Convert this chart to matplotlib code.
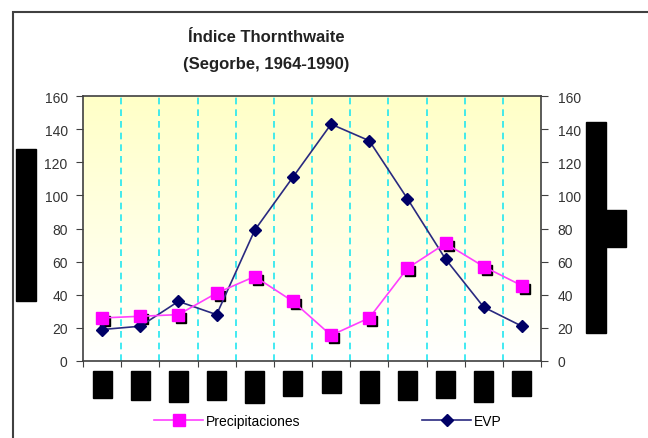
import matplotlib
matplotlib.use("Agg")
import matplotlib.pyplot as plt
import matplotlib.transforms as mtransforms
from matplotlib.patches import Rectangle
import numpy as np

plt.rcParams["font.family"] = ["Liberation Sans", "DejaVu Sans"]

# monthly values (mm)
months = list(range(12))
precip = [26, 27, 28, 41, 51, 36, 15.5, 26, 56, 71, 57, 45.5]
evp = [19, 21, 36, 28, 79, 111, 143, 133, 98, 61.5, 32.5, 21]
# heights (px) of the blacked-out month labels
label_boxes = [27, 29, 31, 29, 32, 25, 22, 32, 29, 27, 31, 25]
yticks = [0, 20, 40, 60, 80, 100, 120, 140, 160]

W, H = 648, 439
fig = plt.figure(figsize=(W / 100, H / 100), dpi=100)

# outer chart frame
fig.patches.append(Rectangle((13 / W, -0.05), 1.2, (H - 13) / H + 0.05,
                             transform=fig.transFigure, fill=False,
                             edgecolor="#404040", linewidth=1.5))

ax = fig.add_axes([83 / W, 77 / H, 458 / W, 265 / H])

# yellow (top) to white (bottom) background
grad = np.linspace(0, 1, 256).reshape(-1, 1)
cols = np.ones((256, 1, 3))
cols[..., 2] = 1.0 - 0.22 * grad
ax.imshow(cols, extent=(-0.5, 11.5, 0, 160), aspect="auto", zorder=0,
          origin="lower")
ax.set_xlim(-0.5, 11.5)
ax.set_ylim(0, 160)

for b in np.arange(0.5, 11.5, 1):
    ax.axvline(b, color="#22E6F0", linestyle=(0, (4, 3)), linewidth=1.2, zorder=1)

# shadows behind precipitation squares
shadow = mtransforms.offset_copy(ax.transData, fig=fig, x=3, y=-3, units="dots")
ax.plot(months, precip, "s", color="black", markersize=7.5, transform=shadow, zorder=3)

ax.plot(months, evp, color="#2A2A80", linewidth=1.2, marker="D", markersize=6,
        markerfacecolor="#000066", markeredgecolor="#000066", zorder=4, label="EVP")
ax.plot(months, precip, color="#FF40FF", linewidth=1.2, marker="s", markersize=8,
        markerfacecolor="#FF00FF", markeredgecolor="#FF00FF", zorder=5,
        label="Precipitaciones")

for s in ax.spines.values():
    s.set_color("#404040")
    s.set_linewidth(1.2)

ax.set_yticks(yticks)
ax.set_xticks(np.arange(-0.5, 12, 1))
ax.set_xticklabels([])
ax.tick_params(axis="x", direction="out", length=4, color="#404040")
ax.tick_params(axis="y", direction="out", length=5, color="#404040",
               labelsize=10, pad=6, labelcolor="#333333")
ax2 = ax.twinx()
ax2.set_ylim(0, 160)
ax2.set_yticks(yticks)
ax2.tick_params(axis="y", direction="out", length=5, color="#404040",
                labelsize=10, pad=7, labelcolor="#333333")
for s in ax2.spines.values():
    s.set_visible(False)

# blacked-out month labels under the axis
btrans = mtransforms.blended_transform_factory(ax.transData, fig.transFigure)
for m, h in zip(months, label_boxes):
    fig.patches.append(Rectangle((m - 0.25, (H - 372 - h) / H), 0.5, h / H,
                                 transform=btrans, color="black"))

# blacked-out axis titles
fig.patches.append(Rectangle((16 / W, (H - 302) / H), 20 / W, 152 / H,
                             transform=fig.transFigure, color="black"))
fig.patches.append(Rectangle((586 / W, (H - 334) / H), 20 / W, 211 / H,
                             transform=fig.transFigure, color="black"))
fig.patches.append(Rectangle((606 / W, (H - 248) / H), 20 / W, 37 / H,
                             transform=fig.transFigure, color="black"))

fig.text(266 / W, (H - 38) / H, "Índice Thornthwaite", ha="center", va="center",
         fontsize=12, fontweight="bold", color="#222222")
fig.text(266 / W, (H - 65) / H, "(Segorbe, 1964-1990)", ha="center", va="center",
         fontsize=12, fontweight="bold", color="#222222")

h1, l1 = ax.get_legend_handles_labels()
order = [1, 0]
leg = fig.legend([h1[i] for i in order], [l1[i] for i in order], loc="center",
                 bbox_to_anchor=(328 / W, 17 / H), ncol=2, frameon=False,
                 fontsize=10, handlelength=3.5, handletextpad=0.2,
                 columnspacing=8.8, numpoints=1)

fig.savefig("out.png", dpi=100)
